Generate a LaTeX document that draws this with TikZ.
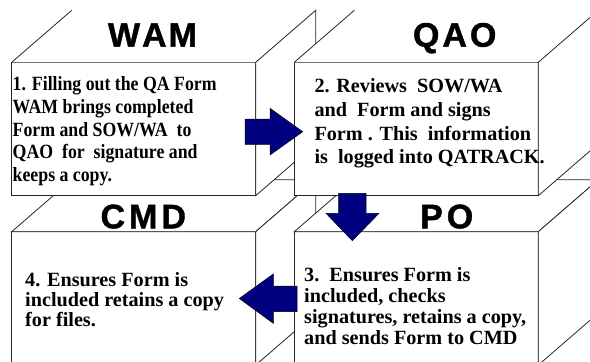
\documentclass[tikz,border=0pt]{standalone}
\usepackage{graphicx}
\usepackage{fontspec}
\setmainfont{Liberation Serif}
\newfontfamily\headfont[FakeBold=1.2]{Liberation Sans Bold}
\definecolor{navyblue}{RGB}{0,0,128}
\newcommand\topsides[1]{%
  \fill[white] (#1.north west) -- ++(60,-52) -- ++(244,0) -- (#1.north east) -- cycle;
  \draw[edge] (#1.north west) -- ++(60,-52);
  \filldraw[face] (#1.north east) -- ++(60,-52) -- ++(0,133.4) -- (#1.south east) -- cycle;}
\newcommand\bottomsides[1]{%
  \filldraw[face] (#1.north west) -- ++(60,-52) -- ++(244,0) -- (#1.north east) -- cycle;
  \filldraw[face] (#1.north east) -- ++(60,-52) -- ++(0,133.4) -- (#1.south east) -- cycle;}
\begin{document}
\begin{tikzpicture}[x=1pt,y=-1pt,
  edge/.style={draw=black!85, line width=0.8pt, line join=miter},
  face/.style={edge, fill=white},
  frontface/.style={face, rectangle, inner sep=0pt, outer sep=0pt, anchor=north west,
    minimum width=244pt, minimum height=133.4pt},
  head/.style={font=\headfont\fontsize{34}{38}\selectfont, inner sep=0pt, anchor=base},
  body/.style={inner sep=0pt, anchor=base west},
  blockarrow/.style={fill=navyblue, draw=black, line width=0.5pt, line join=miter}]
\fill[white] (0,0) rectangle (590,362);
\useasboundingbox (0,0) rectangle (590,362);
% bottom row
\node[frontface] (cmd) at (11.7,231.7) {};
\bottomsides{cmd}
\node[frontface] (po) at (294.3,231.7) {};
\bottomsides{po}
% top row
\node[frontface] (wam) at (11.7,62.3) {};
\topsides{wam}
\node[frontface] (qao) at (294.3,62.3) {};
\topsides{qao}
% headings
\node[head] (twam) at (152.5,46.7) {W\kern2pt A\kern2pt M};
\node[head] (tqao) at (454.7,46.7) {Q\kern3pt A\kern3pt O};
\node[head] (tcmd) at (143.3,228.3) {C\kern4pt M\kern4pt D};
\node[head] (tpo) at (446.7,228.3) {P\kern4pt O};
% texts
\node[body, font=\bfseries\fontsize{20.2}{22.75}\selectfont] (bwam) at (12.5,90.7)
  {\scalebox{0.88}[1]{\begin{tabular}[t]{@{}l@{}}1. Filling out the QA Form\\WAM brings completed\\Form and SOW/WA\ \ to\\QAO\ \ for\ \ signature and\\keeps a copy.\end{tabular}}};
\node[body, font=\bfseries\fontsize{20.2}{23.8}\selectfont] (bqao) at (314.3,92.5)
  {\begin{tabular}[t]{@{}l@{}}2. Reviews\ \ SOW/WA\\and\ \ Form and signs\\Form . This\ \ information\\is\ \ logged into QATRACK.\end{tabular}};
\node[body, font=\bfseries\fontsize{20.2}{20}\selectfont] (bcmd) at (25,286.7)
  {\begin{tabular}[t]{@{}l@{}}4. Ensures Form is\\included retains a copy\\for files.\end{tabular}};
\node[body, font=\bfseries\fontsize{20.2}{20.9}\selectfont] (bpo) at (304,281.7)
  {\begin{tabular}[t]{@{}l@{}}3.\ \ Ensures Form is\\included, checks\\signatures, retains a copy,\\and sends Form to CMD\end{tabular}};
% arrows
\filldraw[blockarrow] (245,119) -- (270,119) -- (270,108.3) -- (302.7,131.7) -- (270,155) -- (270,144.3) -- (245,144.3) -- cycle;
\filldraw[blockarrow] (338.5,193.3) -- (366,193.3) -- (366,213.3) -- (379,213.3) -- (352.3,240.7) -- (326,213.3) -- (338.5,213.3) -- cycle;
\filldraw[blockarrow] (297,286) -- (273.3,286) -- (273.3,274) -- (239.3,298.5) -- (273.3,323.3) -- (273.3,311.7) -- (297,311.7) -- cycle;
\end{tikzpicture}
\end{document}
